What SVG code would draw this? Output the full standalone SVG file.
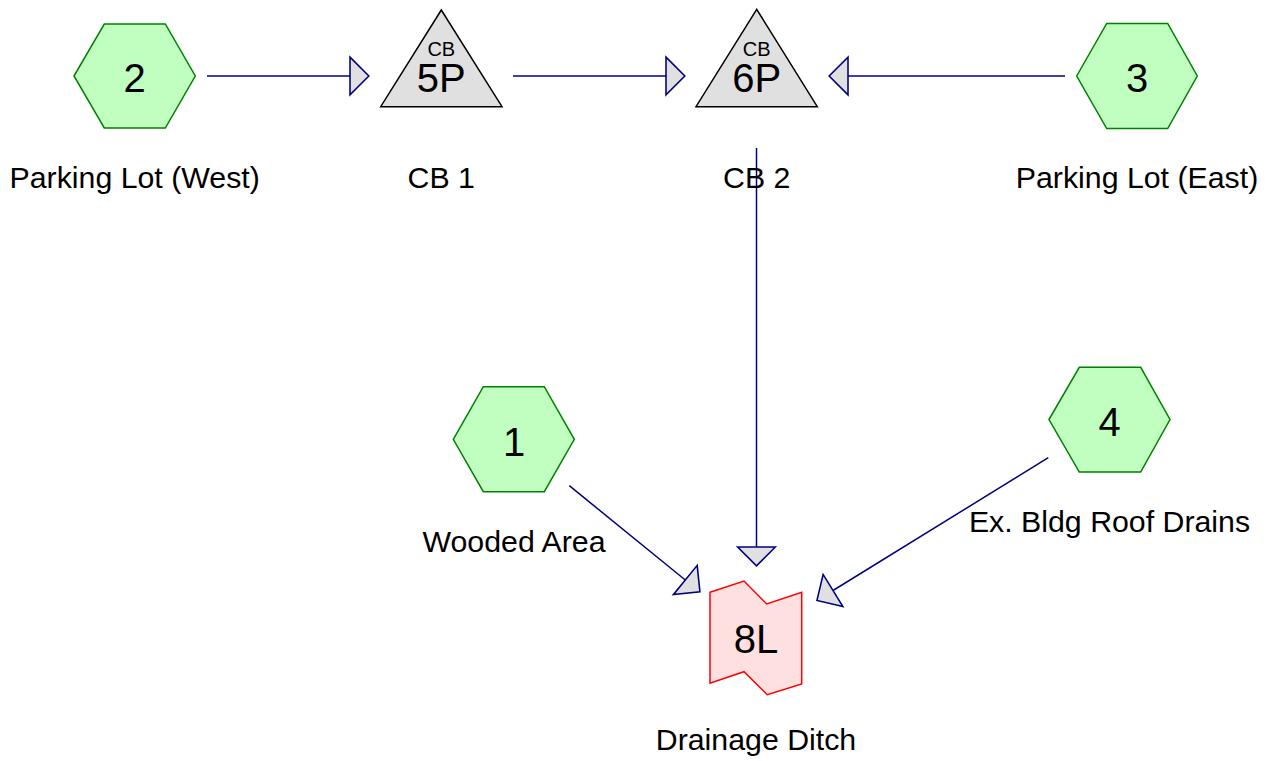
<svg xmlns="http://www.w3.org/2000/svg" width="1271" height="761" viewBox="0 0 1271 761">
<style>
text{font-family:"Liberation Sans",Arial,sans-serif;fill:#000;text-anchor:middle}
.num{font-size:40px}
.lbl{font-size:30.3px}
.sm{font-size:20px}
.hex{fill:#c0ffc0;stroke:#008000;stroke-width:1.5}
.tri{fill:#e0e0e0;stroke:#000;stroke-width:1.5}
.reach{fill:#ffe0e0;stroke:#ff0000;stroke-width:1.5}
.conn line{stroke:#000080;stroke-width:1.5;fill:none;marker-end:url(#ah)}
</style>
<defs>
<marker id="ah" markerUnits="userSpaceOnUse" markerWidth="22" markerHeight="40" viewBox="-1 -19 21 38" refX="0" refY="0" orient="auto" overflow="visible">
<path d="M0,-18 L18,0 L0,18 Z" fill="#e0e0e0" stroke="#000080" stroke-width="1.5"/>
</marker>
</defs>
<rect width="1271" height="761" fill="#fff"/>
<g class="conn" id="connectors">
<line x1="207" y1="76" x2="350" y2="76"/>
<line x1="513" y1="76" x2="666" y2="76"/>
<line x1="1065" y1="76" x2="848" y2="76"/>
<line x1="756.5" y1="148" x2="756.5" y2="547"/>
<line x1="569.3" y1="485.7" x2="685.3" y2="580"/>
<line x1="1048.3" y1="457.7" x2="833" y2="590.5"/>
</g>
<g id="node-2">
<polygon class="hex" points="74,76 104.3,24 165.3,24 195.3,76 165.3,128 104.3,128"/>
<text class="num" x="134.7" y="92.3">2</text>
<text class="lbl" x="134.7" y="188">Parking Lot (West)</text>
</g>
<g id="node-5P">
<polygon class="tri" points="441.3,10 502,106.7 380.7,106.7"/>
<text class="sm" x="441.3" y="55.5">CB</text>
<text class="num" x="441.3" y="92">5P</text>
<text class="lbl" x="441.3" y="188">CB 1</text>
</g>
<g id="node-6P">
<polygon class="tri" points="756.7,9.3 817.3,106.7 696,106.7"/>
<text class="sm" x="756.7" y="55.5">CB</text>
<text class="num" x="756.7" y="92">6P</text>
<text class="lbl" x="756.7" y="188">CB 2</text>
</g>
<g id="node-3">
<polygon class="hex" points="1076.7,76 1106.7,23.5 1167.7,23.5 1197.3,76 1167.7,128.5 1106.7,128.5"/>
<text class="num" x="1137" y="92">3</text>
<text class="lbl" x="1137" y="188">Parking Lot (East)</text>
</g>
<g id="node-1">
<polygon class="hex" points="453.3,439.3 483.3,386.7 544.3,386.7 574.3,439.3 544.3,491.7 483.3,491.7"/>
<text class="num" x="514" y="456">1</text>
<text class="lbl" x="514" y="551.5">Wooded Area</text>
</g>
<g id="node-4">
<polygon class="hex" points="1049,419.5 1079.3,367.3 1140.7,367.3 1170,419.5 1140.7,472 1079.3,472"/>
<text class="num" x="1109.5" y="436">4</text>
<text class="lbl" x="1109.5" y="531.7">Ex. Bldg Roof Drains</text>
</g>
<g id="node-8L">
<polygon class="reach" points="710,592.3 744,581 766.7,604 801.7,592.3 801.7,684 767.3,694.7 744,671.7 710,683.3"/>
<text class="num" x="756" y="653.3">8L</text>
<text class="lbl" x="756" y="750">Drainage Ditch</text>
</g>
</svg>
